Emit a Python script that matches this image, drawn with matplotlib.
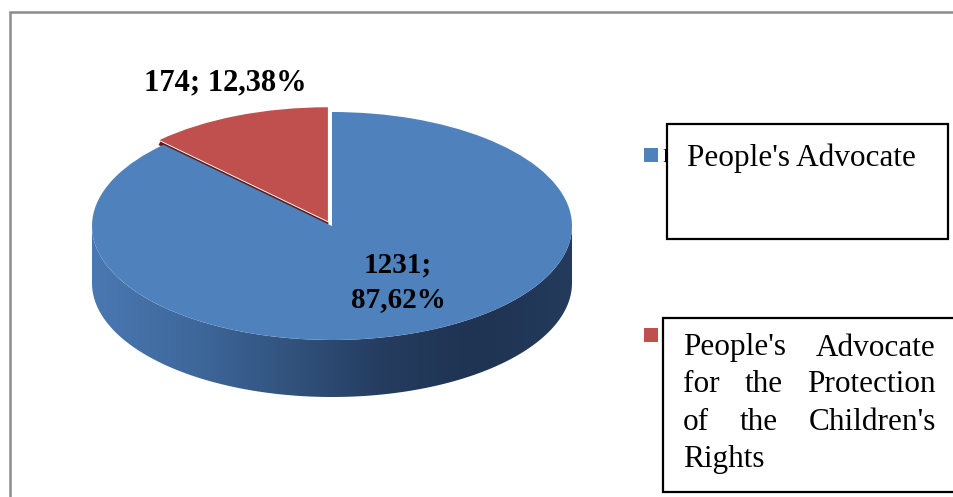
import numpy as np
import matplotlib
matplotlib.use('Agg')
import matplotlib.pyplot as plt
from matplotlib.colors import LinearSegmentedColormap
from matplotlib.patches import Polygon, Rectangle

# data
labels = ["People's Advocate",
          "People's Advocate for the Protection of the Children's Rights"]
values = [1231, 174]
colors = ['#4f81bd', '#c0504d']
legend_lines = [["People's Advocate"],
                ["People's Advocate", "for the Protection",
                 "of the Children's", "Rights"]]

W, H = 954, 497
# pie geometry in pixels (ellipse of the top face)
CX, CY, RX, RY, DEPTH = 332, 226, 240, 114, 57
SERIF = 'Liberation Serif'

fig = plt.figure(figsize=(W / 100, H / 100), dpi=100)

# pie axes: unit circle maps onto the flattened ellipse
pax = fig.add_axes([0, 0, 1, 1])
xlim = ((0 - CX) / RX, (W - CX) / RX)
ylim = ((CY - H) / RY, CY / RY)
d = DEPTH / RY

# side wall with gradient
th = np.linspace(np.pi, 2 * np.pi, 200)
top = np.column_stack([np.cos(th), np.sin(th)])
bot = np.column_stack([np.cos(th[::-1]), np.sin(th[::-1]) - d])
wall = Polygon(np.vstack([top, bot]), closed=True, facecolor='none',
               edgecolor='none')
pax.add_patch(wall)
side_cmap = LinearSegmentedColormap.from_list(
    'side', ['#4a78b2', '#3f699d', '#32547f', '#253d60', '#1f3352', '#243b5c'])
grad = np.linspace(0, 1, 256).reshape(1, -1)
im = pax.imshow(grad, extent=[-1, 1, -1 - d, 0], aspect='auto', cmap=side_cmap,
                interpolation='bicubic', zorder=1)
im.set_clip_path(wall)

# top faces
total = sum(values)
red_frac = values[1] / total
explode = [0, 0.045]
wedges, _ = pax.pie(values, colors=colors, startangle=90 + red_frac * 360,
                    counterclock=True, explode=explode, radius=1,
                    wedgeprops=dict(edgecolor='none', zorder=2))
for w in wedges:
    w.set_zorder(2)

# dark edge under the raised red slice
a0 = np.deg2rad(90)
a1 = np.deg2rad(90 + red_frac * 360)
mid = (a0 + a1) / 2
ox, oy = explode[1] * np.cos(mid), explode[1] * np.sin(mid)
pax.plot([ox, ox + np.cos(a1)], [oy - 0.028, oy + np.sin(a1) - 0.028],
         color='#5e1c1a', lw=2.8, zorder=1.5, solid_capstyle='butt')

pax.set_aspect('auto')
pax.set_xlim(*xlim)
pax.set_ylim(*ylim)
pax.axis('off')

# overlay in pixel coordinates
ax = fig.add_axes([0, 0, 1, 1], zorder=3)
ax.set_xlim(0, W)
ax.set_ylim(H, 0)
ax.axis('off')
ax.patch.set_alpha(0)

# chart frame
ax.plot([10, 10, W + 5], [H + 5, 12, 12], color='#8c8c8c', lw=1.8,
        solid_joinstyle='miter')

# data labels
pct = [v / total * 100 for v in values]
lab = ['{}; {:.2f}%'.format(v, p).replace('.', ',') for v, p in zip(values, pct)]
ax.text(225, 83, lab[1], ha='center', va='center', family=SERIF,
        fontweight='bold', fontsize=22)
ax.text(398, 282, lab[0].replace(' ', '\n'), ha='center', va='center',
        family=SERIF, fontweight='bold', fontsize=21, linespacing=1.35)

# legend markers
for yc, c in zip([155, 335], colors):
    ax.add_patch(Rectangle((644, yc - 7), 14, 14, facecolor=c,
                           edgecolor='none'))

# legend text hidden behind the text box (only a sliver shows)
hidden = ax.text(663, 157, labels[0], ha='left', va='center', family=SERIF,
                 fontsize=13, zorder=1)
hidden.set_clip_path(Rectangle((660, 140), 7, 30, transform=ax.transData))

# text boxes
ax.add_patch(Rectangle((667, 124), 281, 115, facecolor='white',
                       edgecolor='black', lw=1.6, zorder=2))
ax.add_patch(Rectangle((663, 318), 300, 174, facecolor='white',
                       edgecolor='black', lw=1.6, zorder=2))

FS = 22.5
ax.text(687, 158, legend_lines[0][0], ha='left', va='center', family=SERIF,
        fontsize=FS, zorder=3)

# justified paragraph in the second box
renderer = fig.canvas.get_renderer()
left, right = 683, 936
inv = ax.transData.inverted()
for i, line in enumerate(legend_lines[1]):
    y = 348 + i * 37
    words = line.split()
    if len(words) == 1 or i == len(legend_lines[1]) - 1:
        ax.text(left, y, line, ha='left', va='center', family=SERIF,
                fontsize=FS, zorder=3)
        continue
    txts = [ax.text(0, y, wd, ha='left', va='center', family=SERIF,
                    fontsize=FS, zorder=3) for wd in words]
    widths = []
    for t in txts:
        bb = t.get_window_extent(renderer)
        x0 = inv.transform((bb.x0, bb.y0))[0]
        x1 = inv.transform((bb.x1, bb.y0))[0]
        widths.append(x1 - x0)
    gap = (right - left - sum(widths)) / (len(words) - 1)
    x = left
    for t, wd in zip(txts, widths):
        t.set_x(x)
        x += wd + gap

fig.savefig('out.png', dpi=100, facecolor='white')
